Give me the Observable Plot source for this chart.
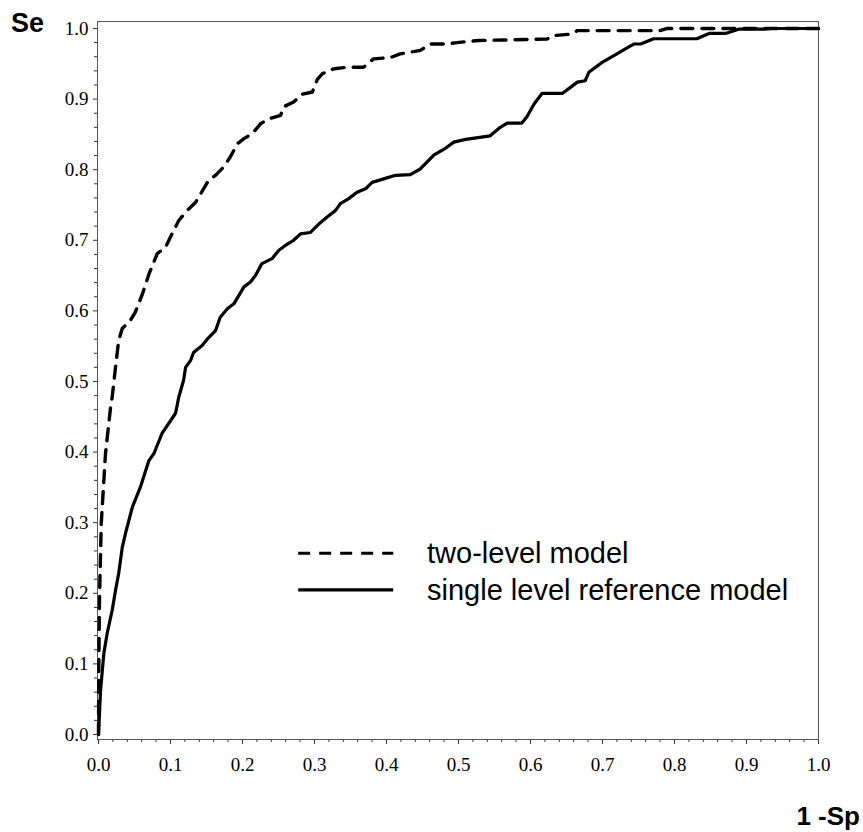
<!DOCTYPE html>
<html>
<head>
<meta charset="utf-8">
<script src="https://cdn.jsdelivr.net/npm/d3@7"></script>
<script src="https://cdn.jsdelivr.net/npm/@observablehq/plot@0.6"></script>
<style>
  html, body { margin: 0; padding: 0; background: #fff; }
  #chart svg { display: block; }
</style>
</head>
<body>
<div id="chart"></div>
<script>
// ---- Data ----
const seriesNames = ["two-level model", "single level reference model"];

const twoLevelX = [0, 0.0004, 0.0014, 0.0038, 0.0097, 0.0167, 0.019, 0.0236, 0.028, 0.033, 0.044, 0.051, 0.061, 0.070, 0.0815, 0.093, 0.102, 0.1115, 0.123, 0.135, 0.142, 0.153, 0.1625, 0.174, 0.183, 0.193, 0.202, 0.2135, 0.225, 0.2365, 0.253, 0.257, 0.271, 0.283, 0.297, 0.304, 0.311, 0.327, 0.345, 0.368, 0.382, 0.406, 0.419, 0.447, 0.461, 0.484, 0.498, 0.528, 0.623, 0.632, 0.656, 0.665, 0.78, 0.79, 1.0];
const twoLevelY = [0, 0.095, 0.194, 0.299, 0.398, 0.463, 0.478, 0.520, 0.558, 0.575, 0.586, 0.598, 0.624, 0.652, 0.681, 0.690, 0.709, 0.728, 0.742, 0.754, 0.766, 0.785, 0.792, 0.804, 0.818, 0.837, 0.844, 0.851, 0.865, 0.872, 0.877, 0.889, 0.896, 0.907, 0.910, 0.928, 0.936, 0.943, 0.945, 0.945, 0.957, 0.959, 0.964, 0.969, 0.978, 0.978, 0.980, 0.983, 0.985, 0.990, 0.992, 0.997, 0.997, 1.0, 1.0];

const singleX = [0, 0.0028, 0.0074, 0.012, 0.019, 0.0236, 0.028, 0.033, 0.0375, 0.047, 0.058, 0.070, 0.077, 0.088, 0.107, 0.1115, 0.118, 0.121, 0.128, 0.132, 0.144, 0.151, 0.1625, 0.169, 0.179, 0.188, 0.195, 0.202, 0.211, 0.218, 0.227, 0.241, 0.2505, 0.26, 0.271, 0.2805, 0.294, 0.306, 0.3176, 0.329, 0.336, 0.3476, 0.359, 0.371, 0.380, 0.396, 0.4125, 0.433, 0.447, 0.466, 0.480, 0.4935, 0.51, 0.544, 0.558, 0.5676, 0.588, 0.595, 0.605, 0.616, 0.644, 0.656, 0.665, 0.676, 0.681, 0.6995, 0.720, 0.7365, 0.7435, 0.753, 0.771, 0.831, 0.848, 0.871, 0.889, 0.924, 0.935, 1.0];
const singleY = [0, 0.062, 0.115, 0.143, 0.176, 0.204, 0.228, 0.265, 0.285, 0.322, 0.350, 0.388, 0.398, 0.426, 0.455, 0.478, 0.501, 0.520, 0.530, 0.541, 0.551, 0.560, 0.572, 0.591, 0.603, 0.610, 0.622, 0.634, 0.641, 0.650, 0.667, 0.674, 0.686, 0.693, 0.700, 0.709, 0.711, 0.723, 0.733, 0.742, 0.752, 0.759, 0.768, 0.773, 0.782, 0.787, 0.792, 0.793, 0.801, 0.821, 0.829, 0.839, 0.843, 0.848, 0.860, 0.866, 0.866, 0.875, 0.893, 0.908, 0.908, 0.917, 0.924, 0.926, 0.938, 0.952, 0.964, 0.974, 0.978, 0.978, 0.9855, 0.9855, 0.993, 0.993, 0.999, 0.999, 1.0, 1.0];

const majorTicks = [0, 0.1, 0.2, 0.3, 0.4, 0.5, 0.6, 0.7, 0.8, 0.9, 1.0];
const minorTicks = [0.02, 0.04, 0.06, 0.08, 0.12, 0.14, 0.16, 0.18, 0.22, 0.24, 0.26, 0.28, 0.32, 0.34, 0.36, 0.38, 0.42, 0.44, 0.46, 0.48, 0.52, 0.54, 0.56, 0.58, 0.62, 0.64, 0.66, 0.68, 0.72, 0.74, 0.76, 0.78, 0.82, 0.84, 0.86, 0.88, 0.92, 0.94, 0.96, 0.98];
const xTitle = "1 -Sp";
const yTitle = "Se";

// ---- Build tables ----
const twoLevel = twoLevelX.map((x, i) => ({x, y: twoLevelY[i]}));
const single = singleX.map((x, i) => ({x, y: singleY[i]}));

const tickFont = "'Liberation Serif', 'Times New Roman', serif";
const sansFont = "'Liberation Sans', Arial, sans-serif";
const fmt = d3.format(".1f");

// Annotation layer: axis titles and legend
function annotations(index, scales, values, dimensions) {
  const {width} = dimensions;
  const g = d3.create("svg:g").attr("text-anchor", "start");
  // axis titles
  g.append("text")
    .attr("x", 11).attr("y", 32)
    .attr("text-anchor", "start")
    .attr("font-family", sansFont).attr("font-weight", "bold")
    .attr("font-size", 27).attr("fill", "black")
    .text(yTitle);
  g.append("text")
    .attr("x", width - 3).attr("y", 825)
    .attr("text-anchor", "end")
    .attr("font-family", sansFont).attr("font-weight", "bold")
    .attr("font-size", 26).attr("fill", "black")
    .text(xTitle);
  // legend (placed in data space of the plot)
  const lx1 = scales.x(0.278), lx2 = scales.x(0.41), tx = scales.x(0.457);
  const rows = [
    {name: seriesNames[0], y: scales.y(0.256), dash: "12,9"},
    {name: seriesNames[1], y: scales.y(0.204), dash: null}
  ];
  for (const r of rows) {
    const line = g.append("line")
      .attr("x1", lx1).attr("x2", lx2)
      .attr("y1", r.y).attr("y2", r.y)
      .attr("stroke", "black").attr("stroke-width", 3.2);
    if (r.dash) line.attr("stroke-dasharray", r.dash);
    g.append("text")
      .attr("x", tx).attr("y", r.y + 10)
      .attr("text-anchor", "start")
      .attr("font-family", sansFont)
      .attr("font-size", 29).attr("fill", "black")
      .text(r.name);
  }
  return g.node();
}

const chart = Plot.plot({
  width: 863,
  height: 832,
  marginLeft: 97,
  marginRight: 45,
  marginTop: 21,
  marginBottom: 93,
  style: {background: "white", overflow: "visible"},
  x: {domain: [-0.0014, 1.0]},
  y: {domain: [-0.0071, 1.0099]},
  marks: [
    // minor ticks
    Plot.axisX({ticks: minorTicks, tickSize: 3, text: null, label: null, stroke: "#333"}),
    Plot.axisY({ticks: minorTicks, tickSize: 3, text: null, label: null, stroke: "#333"}),
    // major ticks with labels
    Plot.axisX({ticks: majorTicks, tickSize: 5, tickPadding: 13, tickFormat: fmt, label: null,
      fontFamily: tickFont, fontSize: 19, fill: "black", stroke: "#333"}),
    Plot.axisY({ticks: majorTicks, tickSize: 4, tickPadding: 5, tickFormat: fmt, label: null,
      fontFamily: tickFont, fontSize: 19, fill: "black", stroke: "#333"}),
    Plot.frame({stroke: "#555", strokeWidth: 1}),
    Plot.line(single, {x: "x", y: "y", stroke: "black", strokeWidth: 3.2, strokeLinejoin: "round"}),
    Plot.line(twoLevel, {x: "x", y: "y", stroke: "black", strokeWidth: 3.4, strokeDasharray: "12,9"}),
    annotations
  ]
});

document.getElementById("chart").appendChild(chart);
</script>
</body>
</html>
